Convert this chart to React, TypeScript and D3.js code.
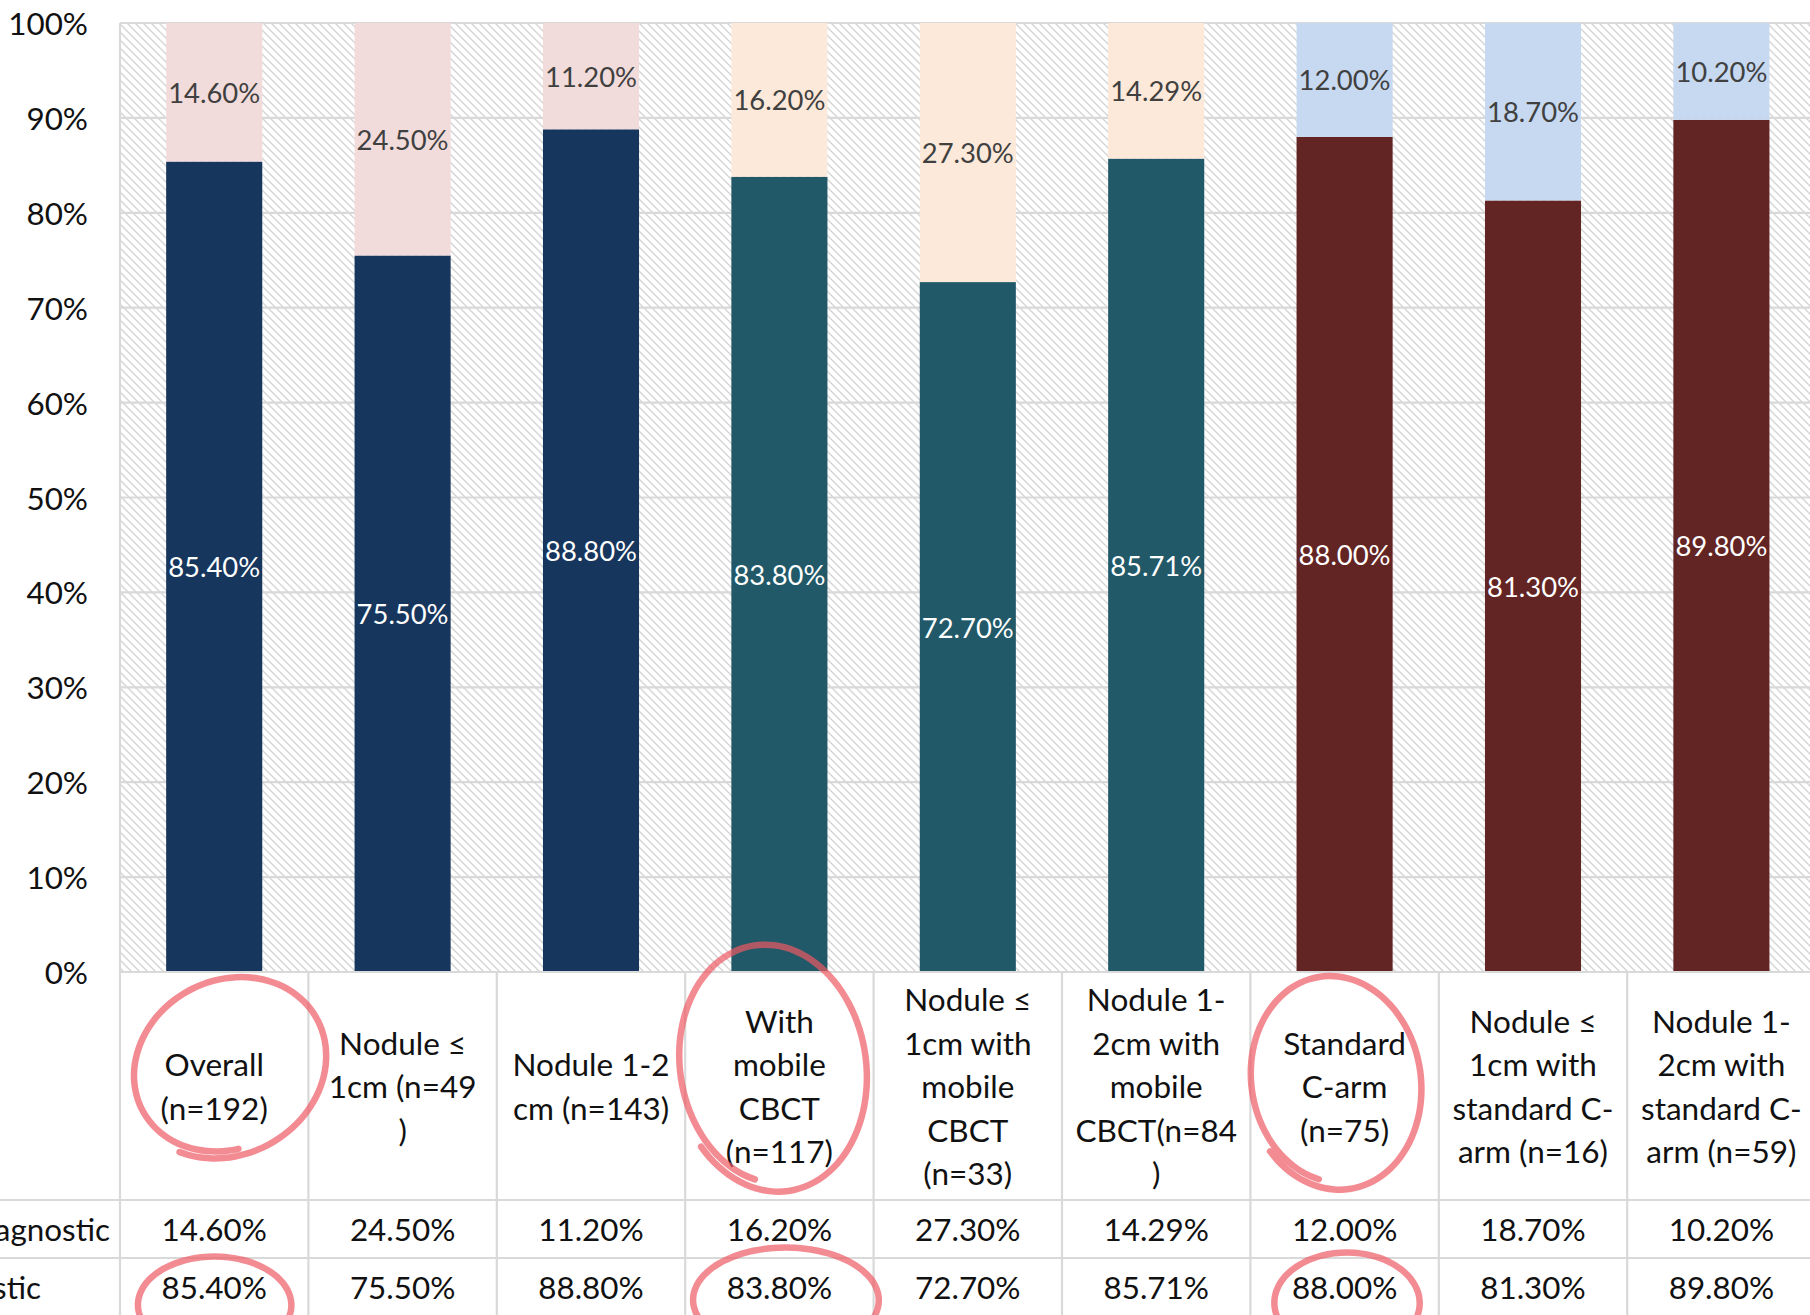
import React from 'react';
import * as d3 from 'd3';

// ---- data ----
const categories = [
  'Overall\n(n=192)',
  'Nodule ≤\n1cm (n=49\n)',
  'Nodule 1-2\ncm (n=143)',
  'With\nmobile\nCBCT\n(n=117)',
  'Nodule ≤\n1cm with\nmobile\nCBCT\n(n=33)',
  'Nodule 1-\n2cm with\nmobile\nCBCT(n=84\n)',
  'Standard\nC-arm\n(n=75)',
  'Nodule ≤\n1cm with\nstandard C-\narm (n=16)',
  'Nodule 1-\n2cm with\nstandard C-\narm (n=59)',
];
const nondiagnostic = [14.6, 24.5, 11.2, 16.2, 27.3, 14.29, 12.0, 18.7, 10.2];
const diagnostic = [85.4, 75.5, 88.8, 83.8, 72.7, 85.71, 88.0, 81.3, 89.8];
const groupOf = [0, 0, 0, 1, 1, 1, 2, 2, 2];
const diagColors = ['#17365D', '#215968', '#632523'];
const nondiagColors = ['#F2DCDB', '#FDE9D9', '#C6D9F1'];
const yTicks = [0, 10, 20, 30, 40, 50, 60, 70, 80, 90, 100];
const rowLabels = ['Nondiagnostic', 'Diagnostic'];
// hand-drawn annotation loops (category index, header or value row)
const circled = [0, 3, 6];

const W = 1810;
const H = 1315;
const FONT = 'Lato, "Open Sans", sans-serif';

export default function App() {
  const plotLeft = 120;
  const step = 188.4;
  const plotTop = 23;
  const plotBottom = 972;
  const headerBottom = 1200;
  const row1Bottom = 1258;
  const row2Bottom = 1316;

  const x = d3
    .scaleBand<string>()
    .domain(categories)
    .range([plotLeft, plotLeft + step * categories.length])
    .paddingInner(0.49)
    .paddingOuter(0.245);
  const y = d3.scaleLinear().domain([0, 100]).range([plotBottom, plotTop]);

  const rows = categories.map((c, i) => ({
    cat: c,
    diagnostic: diagnostic[i],
    nondiagnostic: nondiagnostic[i],
  }));
  const stack = d3.stack<any>().keys(['diagnostic', 'nondiagnostic'])(rows);

  const bandStart = (i: number) => plotLeft + step * i;
  const center = (c: string) => (x(c) as number) + x.bandwidth() / 2;
  const grid = '#D9D9D9';

  const loop = (cx: number, cy: number, rx: number, ry: number, rot: number, a0: number, sweep: number, grow: number) => {
    const pts: [number, number][] = [];
    const n = 60;
    for (let k = 0; k <= n; k++) {
      const t = k / n;
      const a = a0 + sweep * t;
      const s = 1 + grow * t;
      const px = rx * s * Math.cos(a);
      const py = ry * s * Math.sin(a);
      const cr = Math.cos(rot), sr = Math.sin(rot);
      pts.push([cx + px * cr - py * sr, cy + px * sr + py * cr]);
    }
    return d3.line().curve(d3.curveCatmullRom)(pts) as string;
  };

  const headerLoops = [
    { cat: 0, dx: 14, cy: 1066, rx: 95, ry: 82, rot: -0.5, a0: 1.9, sweep: 6.9, grow: 0.09 },
    { cat: 3, dx: -8, cy: 1066, rx: 90, ry: 118, rot: -0.15, a0: 1.95, sweep: 6.9, grow: 0.08 },
    { cat: 6, dx: -10, cy: 1081, rx: 82, ry: 102, rot: -0.15, a0: 1.95, sweep: 6.9, grow: 0.08 },
  ];
  const valueLoops = [
    { cat: 0, dx: 0, cy: 1305, rx: 76, ry: 48, rot: 0, a0: 2.2, sweep: 5.4, grow: 0.02 },
    { cat: 3, dx: 6, cy: 1300, rx: 92, ry: 52, rot: 0, a0: 2.2, sweep: 5.4, grow: 0.02 },
    { cat: 6, dx: 2, cy: 1303, rx: 72, ry: 50, rot: 0, a0: 2.2, sweep: 5.4, grow: 0.02 },
  ];

  return (
    <svg
      width={W}
      height={H}
      style={{ position: 'absolute', left: 0, top: 0, background: '#fff' }}
      fontFamily={FONT}
    >
      <defs>
        <pattern id="hatch" patternUnits="userSpaceOnUse" width="8" height="8">
          <rect width="8" height="8" fill="#fff" />
          <path d="M-1,-1 L9,9 M-1,7 L1,9 M7,-1 L9,1" stroke="#D6D6D6" strokeWidth="1.5" />
        </pattern>
      </defs>
      <rect x={0} y={0} width={W} height={H} fill="#fff" />
      {/* plot area */}
      <rect
        x={plotLeft}
        y={plotTop}
        width={step * categories.length}
        height={plotBottom - plotTop}
        fill="url(#hatch)"
      />
      {yTicks.map((t) => (
        <line
          key={'g' + t}
          x1={plotLeft}
          x2={plotLeft + step * categories.length}
          y1={y(t)}
          y2={y(t)}
          stroke={grid}
          strokeWidth={2.2}
        />
      ))}
      {yTicks.map((t) => (
        <text
          key={'t' + t}
          x={88}
          y={y(t)}
          textAnchor="end"
          dominantBaseline="central"
          fontSize={31.4}
          fill="#111"
        >
          {t + '%'}
        </text>
      ))}
      {/* bars */}
      {stack.map((s, si) =>
        s.map((d, i) => (
          <rect
            key={si + '-' + i}
            x={x(categories[i])}
            width={x.bandwidth()}
            y={y(d[1])}
            height={y(d[0]) - y(d[1])}
            fill={si === 0 ? diagColors[groupOf[i]] : nondiagColors[groupOf[i]]}
          />
        ))
      )}
      {stack.map((s, si) =>
        s.map((d, i) => (
          <text
            key={'l' + si + '-' + i}
            x={center(categories[i])}
            y={y((d[0] + d[1]) / 2)}
            textAnchor="middle"
            dominantBaseline="central"
            fontSize={27.4}
            fill={si === 0 ? '#FFFFFF' : '#404040'}
          >
            {(si === 0 ? diagnostic[i] : nondiagnostic[i]).toFixed(2) + '%'}
          </text>
        ))
      )}
      {/* data table */}
      <line x1={plotLeft} x2={W + 20} y1={plotBottom} y2={plotBottom} stroke={grid} strokeWidth={2.2} />
      <line x1={0} x2={W + 20} y1={headerBottom} y2={headerBottom} stroke={grid} strokeWidth={2.2} />
      <line x1={0} x2={W + 20} y1={row1Bottom} y2={row1Bottom} stroke={grid} strokeWidth={2.2} />
      <line x1={0} x2={W + 20} y1={row2Bottom} y2={row2Bottom} stroke={grid} strokeWidth={2.2} />
      <line x1={plotLeft} x2={plotLeft} y1={plotTop} y2={row2Bottom} stroke={grid} strokeWidth={2.2} />
      {categories.map((c, i) => (
        <line
          key={'v' + i}
          x1={bandStart(i + 1)}
          x2={bandStart(i + 1)}
          y1={plotBottom}
          y2={row2Bottom}
          stroke={grid}
          strokeWidth={2.2}
        />
      ))}
      {categories.map((c, i) => {
        const lines = c.split('\n');
        const mid = (plotBottom + headerBottom) / 2;
        return (
          <text key={'h' + i} textAnchor="middle" fontSize={31.5} fill="#111">
            {lines.map((ln, k) => (
              <tspan
                key={k}
                x={center(c)}
                y={mid + (k - (lines.length - 1) / 2) * 43.5}
                dominantBaseline="central"
              >
                {ln}
              </tspan>
            ))}
          </text>
        );
      })}
      {[nondiagnostic, diagnostic].map((vals, r) =>
        vals.map((v, i) => (
          <text
            key={'c' + r + '-' + i}
            x={center(categories[i])}
            y={r === 0 ? (headerBottom + row1Bottom) / 2 : (row1Bottom + row2Bottom) / 2}
            textAnchor="middle"
            dominantBaseline="central"
            fontSize={31.4}
            fill="#111"
          >
            {v.toFixed(2) + '%'}
          </text>
        ))
      )}
      <text x={110} y={(headerBottom + row1Bottom) / 2} textAnchor="end" dominantBaseline="central" fontSize={31.4} fill="#111">
        {rowLabels[0]}
      </text>
      <text x={41} y={(row1Bottom + row2Bottom) / 2} textAnchor="end" dominantBaseline="central" fontSize={31.4} fill="#111">
        {rowLabels[1]}
      </text>
      {/* hand-drawn annotations */}
      <g fill="none" stroke="#EE5A64" strokeOpacity={0.7} strokeWidth={6.5} strokeLinecap="round">
        {headerLoops.map((l, k) => (
          <path key={'hl' + k} d={loop(center(categories[circled[k]]) + l.dx, l.cy, l.rx, l.ry, l.rot, l.a0, l.sweep, l.grow)} />
        ))}
        {valueLoops.map((l, k) => (
          <path key={'vl' + k} d={loop(center(categories[circled[k]]) + l.dx, l.cy, l.rx, l.ry, l.rot, l.a0, l.sweep, l.grow)} />
        ))}
      </g>
    </svg>
  );
}
